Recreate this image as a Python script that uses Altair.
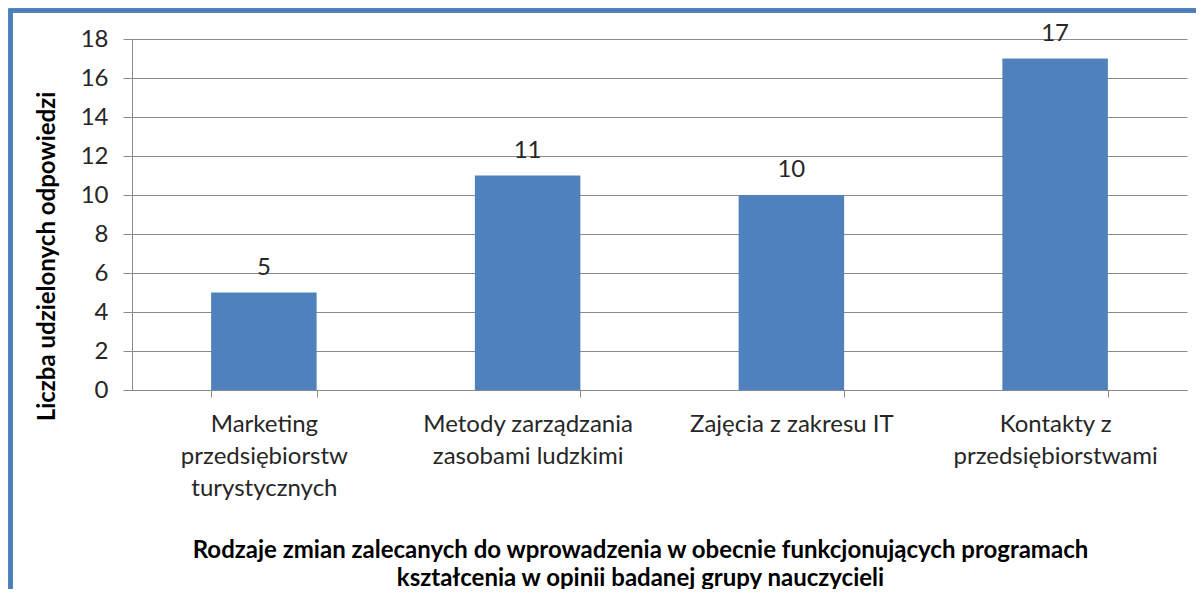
import altair as alt
import pandas as pd

categories = [
    "Marketing\nprzedsiębiorstw\nturystycznych",
    "Metody zarządzania\nzasobami ludzkimi",
    "Zajęcia z zakresu IT",
    "Kontakty z\nprzedsiębiorstwami",
]
values = [5, 11, 10, 17]
y_ticks = [0, 2, 4, 6, 8, 10, 12, 14, 16, 18]
x_title = [
    "Rodzaje zmian zalecanych do wprowadzenia w obecnie funkcjonujących programach",
    "kształcenia w opinii badanej grupy nauczycieli",
]
y_title = "Liczba udzielonych odpowiedzi"

df = pd.DataFrame({"cat": categories, "val": values})

FONT = "Lato"
TXT = "#262626"
GRID = "#8a8a8a"
BAR = "#4F81BD"

x_enc = alt.X(
    "cat:N",
    sort=categories,
    scale=alt.Scale(paddingInner=0.6, paddingOuter=0.3),
    axis=alt.Axis(
        title=x_title,
        labelExpr="split(datum.label, '\\n')",
        labelAngle=0,
        labelLimit=0,
        labelOverlap=False,
        tickBand="extent",
        tickSize=7,
        tickColor=GRID,
        domainColor=GRID,
        labelFont=FONT,
        labelFontSize=24,
        labelColor=TXT,
        labelLineHeight=32,
        labelPadding=15,
        titleFont=FONT,
        titleFontSize=24,
        titleFontWeight="bold",
        titleColor="#000000",
        titleLineHeight=28,
        titleX=508,
        titleY=167,
        titleBaseline="alphabetic",
        grid=False,
    ),
)

y_enc = alt.Y(
    "val:Q",
    scale=alt.Scale(domain=[0, 18], nice=False),
    axis=alt.Axis(
        values=y_ticks,
        tickCount=10,
        title=y_title,
        grid=True,
        gridColor=GRID,
        tickSize=9,
        tickColor=GRID,
        domainColor=GRID,
        labelOverlap=False,
        labelFont=FONT,
        labelFontSize=24,
        labelColor=TXT,
        labelPadding=15,
        titleFont=FONT,
        titleFontSize=24,
        titleFontWeight="bold",
        titleColor="#000000",
        titleX=-84.5,
        titleY=217,
        titleBaseline="middle",
        titleAngle=270,
    ),
)

base = alt.Chart(df)

bars = base.mark_bar(color=BAR).encode(x=x_enc, y=y_enc)

labels = base.mark_text(
    baseline="middle", dy=-25, font=FONT, fontSize=24, color=TXT
).encode(x=x_enc, y=y_enc, text="val:Q")

frame = base.mark_rect(
    fillOpacity=0, stroke="#4a7ebb", strokeWidth=4
).encode(
    x=alt.value(-121.5), x2=alt.value(1070), y=alt.value(-28.5), y2=alt.value(560)
)

chart = (
    alt.layer(bars, labels, frame)
    .properties(
        width=1055,
        height=351,
        autosize=alt.AutoSizeParams(type="none"),
        padding={"left": 124, "top": 31, "right": 9, "bottom": 199},
        background="white",
    )
    .configure_view(stroke=None)
)

chart.save("out.html", embed_options={"renderer": "svg", "actions": False})
